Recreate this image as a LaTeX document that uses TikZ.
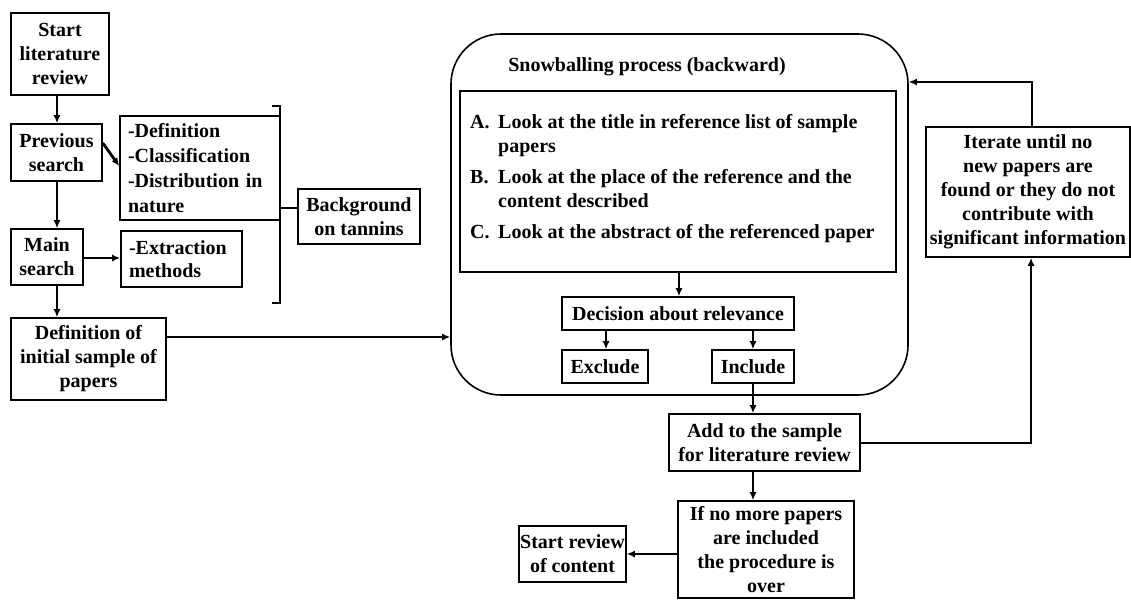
\documentclass[tikz,border=0pt]{standalone}
\usepackage{fontspec}
\setmainfont{Liberation Serif}
\usetikzlibrary{arrows.meta,calc}
\begin{document}
\begin{tikzpicture}[x=1pt,y=-1pt,
  txt/.style={font=\bfseries\fontsize{20}{24}\selectfont},
  box/.style={txt, draw, line width=1.6pt, inner sep=0pt, align=center},
  lbox/.style={box, align=left, inner xsep=8pt},
  arr/.style={line width=2.8pt, -{Latex[length=8pt,width=7pt]}},
  ln/.style={line width=2.8pt},
  bigbox/.style={draw, line width=1.6pt, rounded corners=50pt}]
\useasboundingbox (0,0) rectangle (1131,603);
% left column
\node[box, minimum width=98pt, minimum height=82pt] (start) at (60,54) {Start\\literature\\review};
\node[box, minimum width=91pt, minimum height=57pt] (prev) at (56.5,152.5) {Previous\\search};
\node[lbox, text width=144pt, minimum height=104pt, font=\bfseries\fontsize{20}{25}\selectfont] (defn) at (200,168) {-Definition\\-Classification\\-Distribution in\\nature};
\node[box, minimum width=72pt, minimum height=56pt] (main) at (47,257) {Main\\search};
\node[lbox, text width=105pt, minimum height=56pt, font=\bfseries\fontsize{20}{23}\selectfont] (extr) at (181.5,259) {-Extraction\\methods};
\node[box, minimum width=122pt, minimum height=55pt] (bkg) at (359,216.5) {Background\\on tannins};
\node[box, minimum width=155pt, minimum height=82pt] (init) at (88.5,359) {Definition of\\initial sample of\\papers};
% bracket
\coordinate (bt) at (272,106);
\coordinate (bb) at (272,303);
\draw[ln] (bt) -- (280,106) -- (280,303) -- (bb);
\coordinate (bm) at (280,208);
\draw[ln] (bm) -- (bm -| bkg.west);
% arrows left
\draw[arr] (start.south -| 57,0) -- (prev.north -| 57,0);
\draw[arr] (prev.east |- 0,143) -- (defn.west |- 0,166);
\draw[arr] (prev.south -| 57,0) -- (main.north -| 57,0);
\draw[arr] (main.east |- 0,258) -- (extr.west |- 0,258);
\draw[arr] (main.south -| 57,0) -- (init.north -| 57,0);
% snowballing
\node[bigbox, minimum width=457pt, minimum height=361pt] (big) at (679.5,214.5) {};
\node[txt] (title) at (647,67) {Snowballing process (backward)};
\node[draw, line width=1.6pt, minimum width=436pt, minimum height=181pt] (inner) at (678,181.5) {};
\node[txt, anchor=north west, align=left, inner sep=0pt] (items) at (470,114.5)
 {\makebox[28pt][l]{A.}Look at the title in reference list of sample\\
  \hspace*{28pt}papers\\[7pt]
  \makebox[28pt][l]{B.}Look at the place of the reference and the\\
  \hspace*{28pt}content described\\[7pt]
  \makebox[28pt][l]{C.}Look at the abstract of the referenced paper};
\node[box, minimum width=232pt, minimum height=33pt] (dec) at (678,313.5) {Decision about relevance};
\node[box, minimum width=86pt, minimum height=33pt] (excl) at (605,366.5) {Exclude};
\node[box, minimum width=82pt, minimum height=33pt] (incl) at (753,366.5) {Include};
\draw[arr] (inner.south -| 679,0) -- (dec.north -| 679,0);
\draw[arr] (dec.south -| 606,0) -- (excl.north -| 606,0);
\draw[arr] (dec.south -| incl.north) -- (incl.north);
\draw[arr] (init.east |- 0,337) -- (big.west |- 0,337);
% right part
\node[box, minimum width=191pt, minimum height=57pt] (add) at (764.5,442.5) {Add to the sample\\for literature review};
\node[box, minimum width=204pt, minimum height=130pt] (iter) at (1028,192) {Iterate until no\\new papers are\\found or they do not\\contribute with\\significant information};
\node[box, minimum width=176pt, minimum height=97pt] (ifno) at (766,549.5) {If no more papers\\are included\\the procedure is\\over};
\node[box, minimum width=107pt, minimum height=56pt] (srev) at (572.5,554) {Start review\\of content};
\draw[arr] (incl.south) -- (add.north -| incl.south);
\draw[arr] (add.east |- 0,443) -- (1031,443) -- (iter.south -| 1031,0);
\draw[arr, line width=2pt] (iter.north -| 1032,0) -- (1032,82) -- (big.east |- 0,82);
\draw[arr] (add.south -| 753,0) -- (ifno.north -| 753,0);
\draw[arr] (ifno.west |- 0,554) -- (srev.east |- 0,554);
\end{tikzpicture}
\end{document}
